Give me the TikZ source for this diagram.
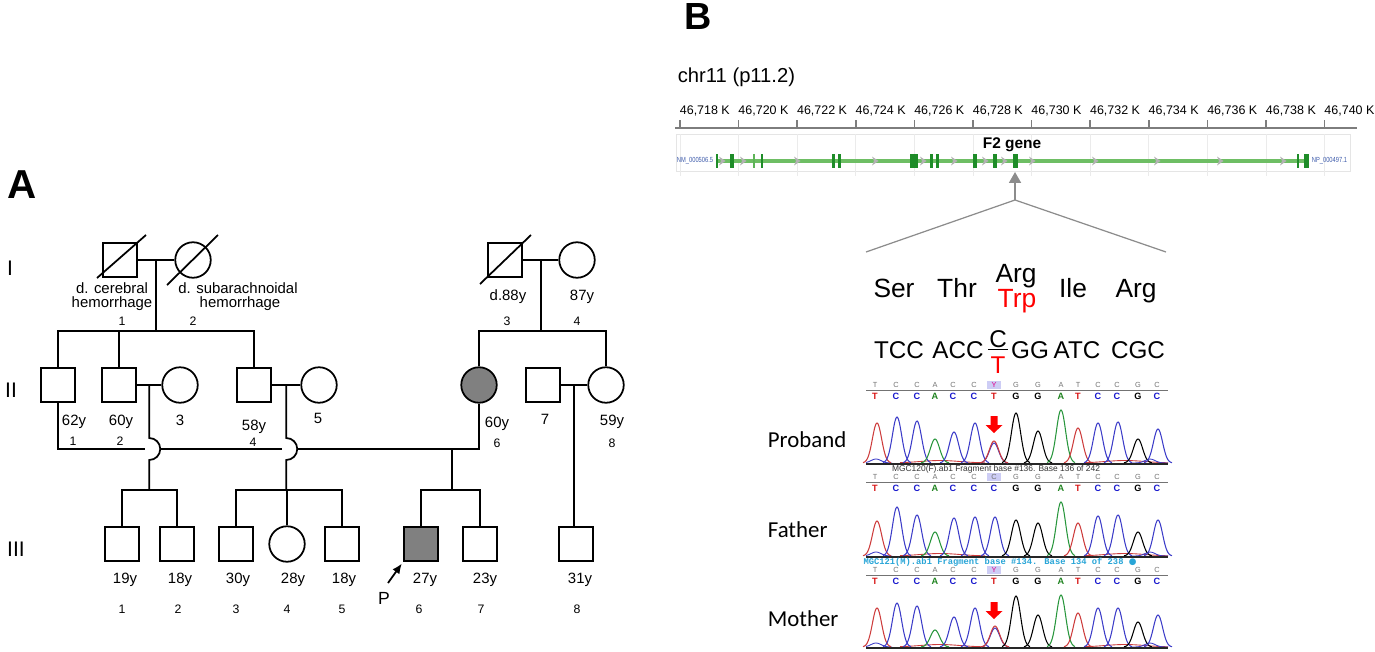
\documentclass[tikz,border=0pt]{standalone}
\usepackage{fontspec}
\setmainfont{Liberation Sans}
\newfontfamily\carlito{Carlito}
\newfontfamily\lmono{Liberation Mono}
\newfontfamily\dejavu{DejaVu Sans}
\usetikzlibrary{arrows.meta,calc,positioning}

\definecolor{affgray}{RGB}{128,128,128}
\definecolor{exongreen}{RGB}{30,140,40}
\definecolor{linegreen}{RGB}{110,190,100}
\definecolor{tickgray}{RGB}{125,125,125}
\definecolor{tracered}{RGB}{205,60,60}
\definecolor{traceblue}{RGB}{60,60,200}
\definecolor{tracegreen}{RGB}{40,150,60}
\definecolor{callred}{RGB}{215,20,20}
\definecolor{callblue}{RGB}{25,25,205}
\definecolor{callgreen}{RGB}{30,130,30}
\definecolor{capcyan}{RGB}{40,165,215}
\definecolor{ymag}{RGB}{225,0,140}
\definecolor{yhigh}{RGB}{205,205,245}
\definecolor{nmblue}{RGB}{60,90,170}

\begin{document}
\begin{tikzpicture}[x=0.02cm, y=-0.02cm, line width=1pt]

\tikzstyle{male} = [rectangle, draw=black, minimum size=0.69cm, inner sep=0pt]
\tikzstyle{female} = [circle, draw=black, minimum size=0.71cm, inner sep=0pt]
\tikzstyle{affected} = [fill=affgray]
\tikzstyle{age} = [anchor=base, inner sep=0pt, font=\fontsize{8.5}{9}\selectfont]
\tikzstyle{idnum} = [anchor=base, inner sep=0pt, font=\fontsize{7}{8}\selectfont]
\tikzstyle{genlabel} = [anchor=base, inner sep=0pt, font=\fontsize{12}{13}\selectfont]
\tikzstyle{panel} = [anchor=base, inner sep=0pt, font=\bfseries\fontsize{23}{24}\selectfont]
\tikzstyle{aa} = [anchor=base, inner sep=0pt, font=\fontsize{15}{16}\selectfont]
\tikzstyle{codon} = [anchor=base, inner sep=0pt, font=\fontsize{13.8}{14}\selectfont]
\tikzstyle{callgray} = [inner sep=0pt, text=black!55, font=\fontsize{4.2}{5}\selectfont]
\tikzstyle{callbold} = [inner sep=0pt, font=\bfseries\fontsize{5.2}{6}\selectfont]
\tikzstyle{sample} = [anchor=base west, inner sep=0pt, font=\carlito\fontsize{13}{14}\selectfont]

\useasboundingbox (0,0) rectangle (1375,652);

\node[panel] at (22,198) (panela) {A};
\node[panel, font=\bfseries\fontsize{21.5}{22}\selectfont] at (698,30) (panelb) {B};

\node[genlabel] at (10,275) (geni) {I};
\node[genlabel] at (11,397) (genii) {II};
\node[genlabel] at (16,556) (geniii) {III};

% generation I
\node[male] at (120,260) (i1) {};
\node[female] at (193,260) (i2) {};
\node[male] at (505,260) (i3) {};
\node[female] at (577,260) (i4) {};

\draw (i1.center) ++(-23,18) -- ++(49,-43);
\draw (i2.center) ++(-26,25) -- ++(51,-50);
\draw (i3.center) ++(-25,24) -- ++(51,-49);

% generation II
\node[male] at (58,385) (ii1) {};
\node[male] at (119,385) (ii2) {};
\node[female] at (180,385) (ii3) {};
\node[male] at (254,385) (ii4) {};
\node[female] at (319,385) (ii5) {};
\node[female, affected] at (479,385) (ii6) {};
\node[male] at (543,385) (ii7) {};
\node[female] at (606,385) (ii8) {};

% generation III
\node[male] at (122,544) (iii1) {};
\node[male] at (177,544) (iii2) {};
\node[male] at (236,544) (iii3) {};
\node[female] at (287,544) (iii4) {};
\node[male] at (342,544) (iii5) {};
\node[male, affected] at (421,544) (iii6) {};
\node[male] at (480,544) (iii7) {};
\node[male] at (576,544) (iii8) {};

% matings and sibships
\draw (i1.east) -- (i2.west);
\coordinate (m12) at ($(i1.east)!0.5!(i2.west)$);
\coordinate (sib1) at ($(m12)+(0,71)$);
\draw (m12) -- (sib1);
\draw (ii1.north) |- (sib1) -| (ii4.north);
\draw (ii2.north) -- (ii2.north |- sib1);

\draw (i3.east) -- (i4.west);
\coordinate (m34) at ($(i3.east)!0.5!(i4.west)$);
\coordinate (sib2) at ($(m34)+(0,71)$);
\draw (m34) -- (sib2);
\draw (ii6.north) |- (sib2) -| (ii8.north);

\coordinate (u16) at (452,449);
\coordinate (sib5) at (452,490);

\draw (ii2.east) -- (ii3.west);
\coordinate (m23) at ($(ii2.east)!0.5!(ii3.west)$);
\coordinate (sib3) at ($(m23)+(0,105)$);
\draw (m23) -- ($(m23 |- u16)+(0,-11)$) arc[start angle=90, end angle=-90, radius=0.22cm] -- (sib3);
\draw (iii1.north) |- (sib3) -| (iii2.north);

\draw (ii4.east) -- (ii5.west);
\coordinate (m45) at ($(ii4.east)!0.5!(ii5.west)$);
\coordinate (sib4) at ($(m45)+(0,105)$);
\draw (m45) -- ($(m45 |- u16)+(0,-11)$) arc[start angle=90, end angle=-90, radius=0.22cm] -- (sib4);
\draw (iii3.north) |- (sib4) -| (iii5.north);
\draw (iii4.north |- sib4) -- (iii4.north);

\draw (ii1.south) |- ($(m23 |- u16)+(-4,0)$);
\draw ($(m23 |- u16)+(11,0)$) -- ($(m45 |- u16)+(-4,0)$);
\draw ($(m45 |- u16)+(11,0)$) -| (ii6.south);
\draw (u16) -- (sib5);
\draw (iii6.north) |- (sib5) -| (iii7.north);

\draw (ii7.east) -- (ii8.west);
\coordinate (m78) at ($(ii7.east)!0.5!(ii8.west)$);
\draw (m78) -- (m78 |- iii8.north);

% labels generation I
\node[age] at (112,293) (cause1a) {d. cerebral};
\node[age] at (112,307) (cause1b) {hemorrhage};
\node[idnum] at (122,325) (id1) {1};
\node[age] at (238,293) (cause2a) {d. subarachnoidal};
\node[age] at (240,307) (cause2b) {hemorrhage};
\node[idnum] at (193,325) (id2) {2};
\node[age] at (508,300) (age3) {d.88y};
\node[age] at (582,300) (age4) {87y};
\node[idnum] at (507,325) (id3) {3};
\node[idnum] at (577,325) (id4) {4};

% labels generation II
\node[age] at (74,425) (ageii1) {62y};
\node[age] at (121,425) (ageii2) {60y};
\node[age] at (180,425) (idii3) {3};
\node[age] at (254,430) (ageii4) {58y};
\node[age] at (318,423) (idii5) {5};
\node[age] at (497,427) (ageii6) {60y};
\node[age] at (545,424) (idii7) {7};
\node[age] at (612,425) (ageii8) {59y};
\node[idnum] at (73,445) (idii1) {1};
\node[idnum] at (120,445) (idii2) {2};
\node[idnum] at (253,446) (idii4) {4};
\node[idnum] at (497,447) (idii6) {6};
\node[idnum] at (612,447) (idii8) {8};

% labels generation III
\foreach \px/\ax/\yr/\id in {122/125/19y/1, 178/180/18y/2, 236/238/30y/3, 287/293/28y/4,
    342/344/18y/5, 419/425/27y/6, 481/485/23y/7, 577/580/31y/8} {
  \node[age, name=ageiii\id] at (\ax,583) {\yr};
  \node[idnum, name=idiii\id] at (\px,613) {\id};
}

\node[anchor=base, inner sep=0pt, font=\fontsize{10}{11}\selectfont] at (384,604) (proband) {P};
\coordinate (ptail) at (388,583);
\draw[-{Latex[length=0.2cm, width=0.17cm]}, shorten >=1pt] (ptail) -- (iii6.south west);

% panel B: locus
\node[anchor=base west, inner sep=0pt, font=\fontsize{11.5}{12}\selectfont] at (677,83) (chr) {chr11 (p11.2)};

\draw[black!10, line width=0.5pt] (676,134) rectangle (1350,171);
\foreach \k [count=\i from 0] in {718,720,...,740} {
  \draw[black!8, line width=0.5pt] ({680+58.6*\i},134) -- ({680+58.6*\i},176);
  \draw[tickgray, line width=0.9pt] ({680+58.6*\i},120) -- ({680+58.6*\i},128);
  \node[anchor=base west, inner sep=0pt, font=\fontsize{7.1}{8}\selectfont, name=tick\k] at ({679+58.6*\i},114) {46,\k\ K};
}
\draw[tickgray, line width=1.1pt] (675,128) -- (1357,128);

\draw[linegreen, line width=2pt] (717,161) -- (1308,161);
\foreach \c in {722,743,797,875,923,954,985,1004,1032,1095,1157,1220,1283}
  \fill[black!30] ({\c-3},156.5) -- ({\c+3.5},161) -- ({\c-3},165.5) -- ({\c-1},161) -- cycle;
\foreach \c/\w in {717/2, 732/4, 762/2, 833/3, 839/3, 914/8, 931/3, 937/3, 975/4, 995/4, 1015/5, 1298/2, 1306/5}
  \fill[exongreen] ({\c-\w/2},154) rectangle ({\c+\w/2},168);
\fill[linegreen!80!exongreen] (753.3,154) rectangle (754.7,168);

\node[anchor=east, inner sep=0pt, text=nmblue, font=\fontsize{4.2}{5}\selectfont] at (714,161) (nm) {\scalebox{0.78}[1]{NM\_000506.5}};
\node[anchor=west, inner sep=0pt, text=nmblue, font=\fontsize{4.2}{5}\selectfont] at (1311,161) (np) {\scalebox{0.78}[1]{NP\_000497.1}};
\node[anchor=base, inner sep=0pt, font=\bfseries\fontsize{8.8}{9}\selectfont] at (1012,148) (f2) {F2 gene};

\coordinate (zoomtop) at (1015,200);
\coordinate (exontip) at (1015,172);
\coordinate (zoomleft) at (866,252);
\coordinate (zoomright) at (1166,252);
\draw[-{Triangle[length=0.22cm, width=0.24cm]}, black!45, line width=1pt] (zoomtop) -- (exontip);
\draw[black!45, line width=0.7pt] (zoomleft) -- (zoomtop) -- (zoomright);

% panel B: sequence
\node[aa] at (894,297) (ser) {Ser};
\node[aa] at (957,297) (thr) {Thr};
\node[aa] at (1016,282) (argwt) {Arg};
\node[aa, text=red] at (1017,307) (trp) {Trp};
\node[aa] at (1073,297) (ile) {Ile};
\node[aa] at (1136,297) (arg) {Arg};

\node[codon] at (899,358) (cod1) {TCC};
\node[codon] at (958,358) (cod2) {ACC};
\node[codon] at (998,347) (wtbase) {C};
\draw[line width=0.8pt] ($(wtbase.base west)+(0,2.5)$) -- ($(wtbase.base east)+(0,2.5)$);
\node[codon, text=red] at (998,373) (mutbase) {T};
\node[codon] at (1030,358) (cod3) {GG};
\node[codon] at (1077,358) (cod4) {ATC};
\node[codon] at (1138,358) (cod5) {CGC};

% panel B: base calls
\foreach \yy in {0,92,185} {
  \foreach \bx/\b/\col in {875/T/callred, 896/C/callblue, 917/C/callblue, 935/A/callgreen, 953/C/callblue,
      974/C/callblue, 1016/G/black, 1038/G/black, 1061/A/callgreen, 1078/T/callred, 1098/C/callblue,
      1117/C/callblue, 1138/G/black, 1157/C/callblue} {
    \node[callgray] at (\bx,{385+\yy}) {\b};
    \node[callbold, text=\col] at (\bx,{396+\yy}) {\b};
  }
  \fill[yhigh] (987,{381+\yy}) rectangle (1001,{389+\yy});
  \draw[black!55, line width=0.5pt] (866,{390+\yy}) -- (1168,{390+\yy});
}
\node[callgray, text=ymag] at (994,385) (yprob) {Y};
\node[callbold, text=callred] at (994,396) (tprob) {T};
\node[callgray] at (994,477) (cfath) {C};
\node[callbold, text=callblue] at (994,488) (cfathb) {C};
\node[callgray, text=ymag] at (994,570) (ymoth) {Y};
\node[callbold, text=callred] at (994,581) (tmoth) {T};

% panel B: traces
\foreach \base in {463,556,647} {
  \draw[traceblue, line width=0.5pt] plot[domain=866:892, samples=20, smooth] (\x,{\base-4*exp(-((\x-876)/7)^2)});
  \draw[tracered, line width=0.5pt] plot[domain=900:985, samples=30, smooth] (\x,{\base-2.5*exp(-((\x-940)/28)^2)});
  \draw[tracered, line width=0.5pt] plot[domain=1085:1168, samples=30, smooth] (\x,{\base-2.5*exp(-((\x-1125)/28)^2)});
  \draw[traceblue, line width=0.5pt] plot[domain=1130:1168, samples=20, smooth] (\x,{\base-4*exp(-((\x-1150)/7)^2)});
  \draw[black!85, line width=1.2pt] (866,{\base+1}) -- (1168,{\base+1});
}
\foreach \c/\h/\col in {877/40/tracered, 897/46/traceblue, 917/42/traceblue, 935/24/tracegreen, 954/31/traceblue,
    975/40/traceblue, 994/20/traceblue, 994/22/tracered, 1016/50/black, 1038/32/black, 1061/53/tracegreen,
    1078/35/tracered, 1098/40/traceblue, 1118/41/traceblue, 1138/24/black, 1158/34/traceblue}
  \draw[\col, line width=0.6pt] plot[domain={\c-14}:{\c+14}, samples=29, smooth] (\x,{463-\h*exp(-((\x-\c)/6.5)^2)});
\foreach \c/\h/\col in {877/35/tracered, 897/49/traceblue, 917/41/traceblue, 935/24/tracegreen, 954/38/traceblue,
    975/39/traceblue, 995/39/traceblue, 1016/36/black, 1038/33/black, 1061/54/tracegreen,
    1078/33/tracered, 1098/40/traceblue, 1118/41/traceblue, 1138/24/black, 1158/36/traceblue}
  \draw[\col, line width=0.6pt] plot[domain={\c-14}:{\c+14}, samples=29, smooth] (\x,{556-\h*exp(-((\x-\c)/6.5)^2)});
\foreach \c/\h/\col in {877/39/tracered, 897/44/traceblue, 917/41/traceblue, 935/17/tracegreen, 954/30/traceblue,
    975/39/traceblue, 995/19/traceblue, 995/21/tracered, 1016/51/black, 1038/32/black, 1061/52/tracegreen,
    1078/34/tracered, 1098/39/traceblue, 1118/39/traceblue, 1138/25/black, 1158/32/traceblue}
  \draw[\col, line width=0.6pt] plot[domain={\c-14}:{\c+14}, samples=29, smooth] (\x,{647-\h*exp(-((\x-\c)/6.5)^2)});

\foreach \ytop in {416,602}
  \fill[red] (990.5,\ytop) -- (997.5,\ytop) -- (997.5,\ytop+9) -- (1002.5,\ytop+9) -- (994,\ytop+17)
    -- (985.5,\ytop+9) -- (990.5,\ytop+9) -- cycle;

\node[inner sep=0pt, text=black!80, font=\fontsize{4.8}{5}\selectfont] at (996,469) (capprob) {MGC120(F).ab1 Fragment base \#136. Base 136 of 242};
\node[inner sep=0pt, text=capcyan, font=\lmono\bfseries\fontsize{5}{5}\selectfont] at (1000,562) (capfath) {MGC121(M).ab1 Fragment base \#134. Base 134 of 238 {\dejavu ●}};

\node[sample] at (767,447) (lprob) {Proband};
\node[sample] at (767,537) (lfath) {Father};
\node[sample] at (767,626) (lmoth) {Mother};

\end{tikzpicture}
\end{document}
